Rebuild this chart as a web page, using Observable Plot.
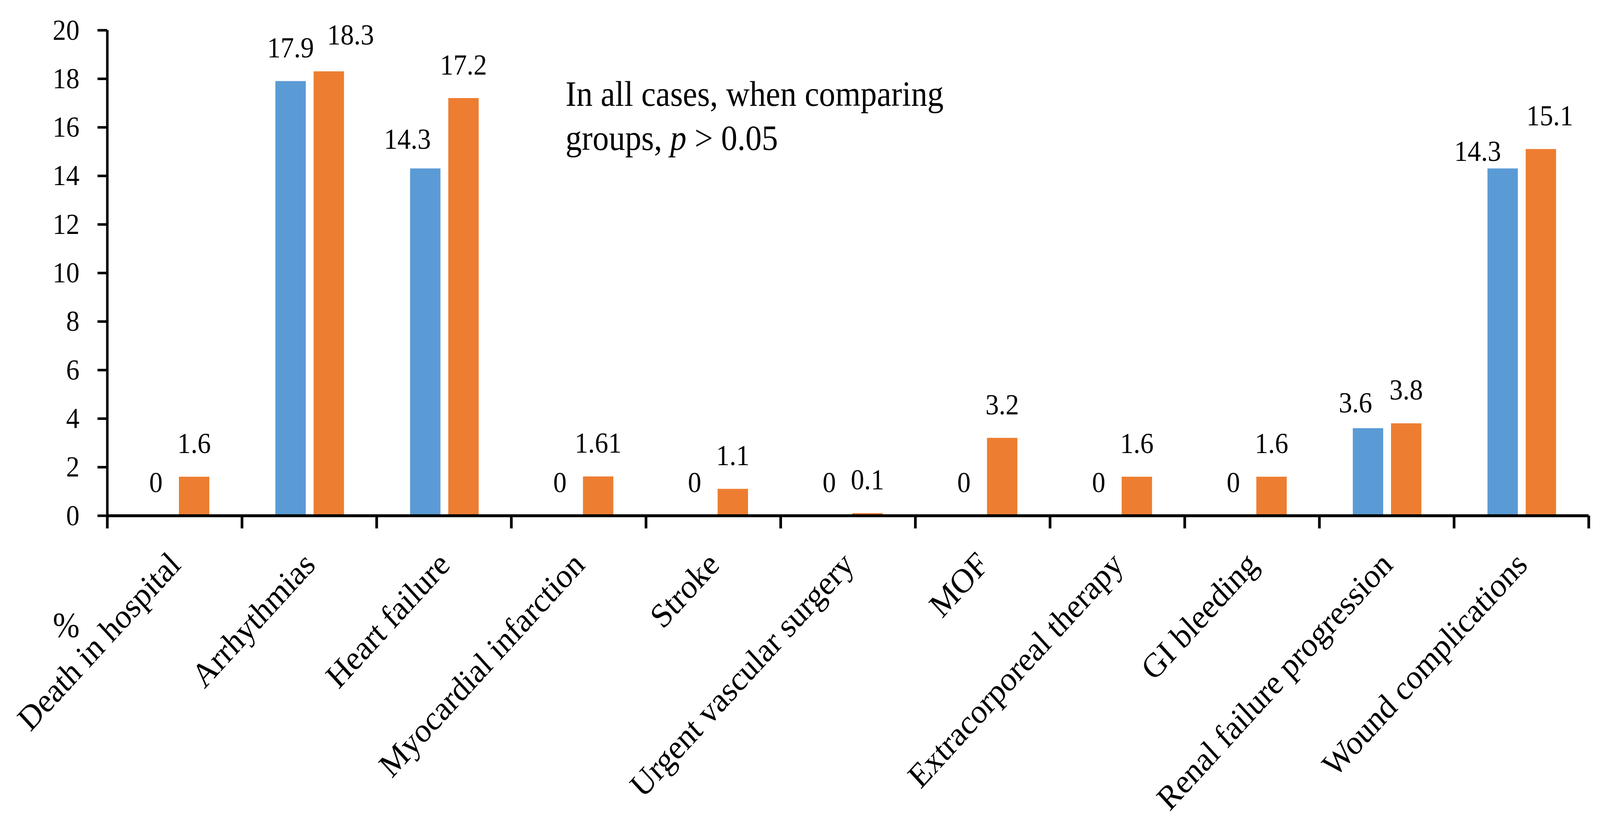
<!DOCTYPE html>
<html>
<head>
<meta charset="utf-8">
<script src="https://cdn.jsdelivr.net/npm/d3@7"></script>
<script src="https://cdn.jsdelivr.net/npm/@observablehq/plot@0.6"></script>
<style>
  html, body { margin: 0; padding: 0; background: #fff; overflow: hidden; width: 100vw; height: 100vh; }
  #chart { width: 100vw; height: 100vh; }
  #chart svg { width: 100vw !important; height: 100vh !important; max-width: none !important; display: block; }
</style>
</head>
<body>
<div id="chart"></div>
<script>
const categories = [
  "Death in hospital", "Arrhythmias", "Heart failure", "Myocardial infarction",
  "Stroke", "Urgent vascular surgery", "MOF", "Extracorporeal therapy",
  "GI bleeding", "Renal failure progression", "Wound complications"
];
const blueValues   = [0, 17.9, 14.3, 0, 0, 0, 0, 0, 0, 3.6, 14.3];
const orangeValues = [1.6, 18.3, 17.2, 1.61, 1.1, 0.1, 3.2, 1.6, 1.6, 3.8, 15.1];
const yTicks = [0, 2, 4, 6, 8, 10, 12, 14, 16, 18, 20];
const yDomain = [0, 20];
const yAxisTitle = "%";
const noteLine1 = "In all cases, when comparing";
const noteLine2 = "groups, p > 0.05";

// style: colours, fonts, geometry
const BLUE = "#5B9BD5";
const ORANGE = "#ED7D31";
const FONT = "'Liberation Serif', 'Times New Roman', serif";
const W = 4480, H = 2120;
const ML = 300, MR = 32, MT = 77, MB = 800;
const step = (W - ML - MR) / categories.length;

// per-label pixel nudges (as the labels were dragged in the original chart)
const labelNudges = {
  "blue|Heart failure": [-50, 10],
  "blue|Renal failure progression": [-35, 20],
  "blue|Wound complications": [-70, 41],
  "orange|Arrhythmias": [61, -8],
  "orange|Wound complications": [25, 0]
};

const blueRows = categories.map((c, i) => ({series: "blue", category: c, value: blueValues[i], label: String(blueValues[i])}));
const orangeRows = categories.map((c, i) => ({series: "orange", category: c, value: orangeValues[i], label: String(orangeValues[i])}));
const lastCat = [categories[categories.length - 1]];

function valueLabel(row, baseDx) {
  const n = labelNudges[row.series + "|" + row.category] || [0, 0];
  return Plot.text([row], {
    x: "category", y: "value", text: "label",
    dx: baseDx + n[0], dy: -61 + n[1],
    lineAnchor: "bottom", fontSize: 75, fill: "black"
  });
}

const chart = Plot.plot({
  width: W,
  height: H,
  marginLeft: ML,
  marginRight: MR,
  marginTop: MT,
  marginBottom: MB,
  style: {fontFamily: FONT, fontSize: "75px", color: "black", background: "white"},
  x: {type: "band", domain: categories, padding: 0, round: false, axis: null},
  y: {domain: yDomain, label: null, axis: null},
  marks: [
    Plot.barY(blueRows, {x: "category", y: "value", fill: BLUE, insetLeft: 94, insetRight: 198}),
    Plot.barY(orangeRows, {x: "category", y: "value", fill: ORANGE, insetLeft: 201, insetRight: 91}),
    // axis lines
    Plot.ruleY([0], {stroke: "black", strokeWidth: 7.5}),
    Plot.ruleX([categories[0]], {y1: yDomain[0], y2: yDomain[1], dx: -step / 2, stroke: "black", strokeWidth: 7}),
    Plot.axisY({ticks: yTicks, tickSize: 27, tickPadding: 51, strokeWidth: 6.5, label: null, fontSize: 75, fill: "black"}),
    // category boundary ticks
    Plot.ruleX(categories, {x: d => d, y1: 0, y2: 0, insetTop: 33, dx: -step / 2, stroke: "black", strokeWidth: 7.5}),
    Plot.ruleX(lastCat, {x: d => d, y1: 0, y2: 0, insetTop: 33, dx: step / 2, stroke: "black", strokeWidth: 7.5}),
    // value labels
    ...blueRows.map(r => valueLabel(r, -52.5)),
    ...orangeRows.map(r => valueLabel(r, 54.5)),
    // category labels
    Plot.text(categories, {x: d => d, frameAnchor: "bottom", rotate: -45, textAnchor: "end", lineAnchor: "bottom", dx: 21, dy: 130, fontSize: 88, fill: "black"}),
    // y axis title
    Plot.text([yAxisTitle], {frameAnchor: "bottom-left", textAnchor: "middle", lineAnchor: "bottom", dx: -115, dy: 310, fontSize: 90, fill: "black"}),
    // annotation
    Plot.text([noteLine1], {frameAnchor: "top-left", textAnchor: "start", lineAnchor: "bottom", dx: 1283, dy: 193, fontSize: 91, fill: "black"}),
    Plot.text([noteLine2], {frameAnchor: "top-left", textAnchor: "start", lineAnchor: "bottom", dx: 1283, dy: 306, fontSize: 91, fill: "black"})
  ]
});

// italicise the "p" in the annotation
d3.select(chart).selectAll("text").filter(function() { return this.textContent === noteLine2; }).each(function() {
  const t = d3.select(this);
  t.text(null);
  t.append("tspan").text("groups, ");
  t.append("tspan").attr("font-style", "italic").text("p");
  t.append("tspan").text(" > 0.05");
});

chart.setAttribute("preserveAspectRatio", "none");
document.getElementById("chart").appendChild(chart);
</script>
</body>
</html>
